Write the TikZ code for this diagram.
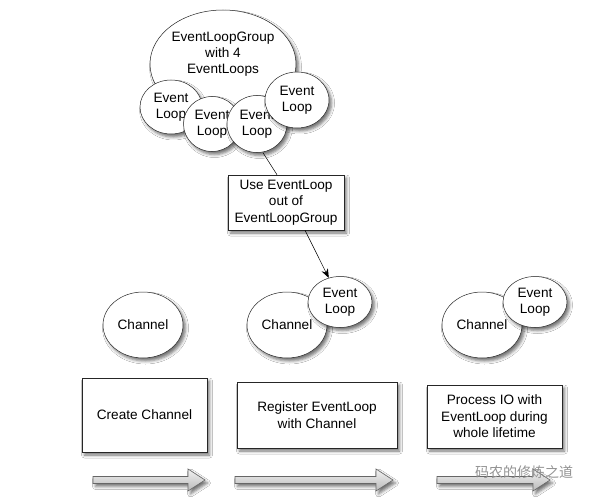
\documentclass[tikz,border=0pt]{standalone}
\usepackage{fontspec}
\setmainfont{Liberation Sans}
\newfontfamily\cjkfont{Noto Sans CJK SC}
\usetikzlibrary{shapes.geometric,shadows.blur,arrows.meta,calc}
\tikzset{
  shadowed/.style={blur shadow={shadow xshift=2.5pt, shadow yshift=-3pt, shadow blur radius=3pt, shadow opacity=55}},
  loopel/.style={ellipse, draw=black!85, line width=0.5pt, fill=white, inner sep=0pt, align=center, shadowed, font=\fontsize{13.6}{16}\selectfont},
  stepbox/.style={rectangle, draw=black!85, line width=0.5pt, fill=white, align=center, inner sep=0pt, shadowed, font=\fontsize{13.6}{16.5}\selectfont},
  txt/.style={align=center, inner sep=0pt, font=\fontsize{13.6}{16}\selectfont},
  conn/.style={draw=black, line width=0.5pt},
  blockarrow/.style={draw=black!60, line width=0.6pt, top color=gray!10, bottom color=gray!55, shadowed}
}
\newcommand{\blockarr}[3]{% x0, x1, y
  \path[blockarrow] (#1,#3-3.5) -- (#2-17,#3-3.5) -- (#2-17,#3-11) -- (#2,#3) -- (#2-17,#3+11) -- (#2-17,#3+3.5) -- (#1,#3+3.5) -- cycle;}
\begin{document}
\begin{tikzpicture}[x=1pt,y=-1pt]
\useasboundingbox (0,0) rectangle (593,497);
\fill[white] (0,0) rectangle (593,497);

% Event loop group
\node[loopel, minimum width=146pt, minimum height=108pt] (group) at (223,64) {};
\node[txt] (grouptxt) at (223,54) {EventLoopGroup\\with 4\\EventLoops};
\node[loopel, minimum width=62pt, minimum height=54pt] (l1) at (171,107) {Event\\Loop};
\node[loopel, minimum width=57pt, minimum height=55pt] (l2) at (212,124) {Event\\Loop};
\node[loopel, minimum width=60pt, minimum height=57pt] (l3) at (257,124) {Event\\Loop};
\node[loopel, minimum width=64pt, minimum height=56pt] (l4) at (297,100) {Event\\Loop};

% Use box
\node[stepbox, minimum width=116pt, minimum height=55pt] (usebox) at (286,202.5) {Use EventLoop\\out of\\EventLoopGroup};

% Bottom ellipses
\node[loopel, minimum width=80pt, minimum height=66pt] (ch1) at (143,325) {Channel};
\node[loopel, minimum width=80pt, minimum height=66pt] (ch2) at (287,325) {Channel};
\node[loopel, minimum width=64pt, minimum height=51pt] (el2) at (340,302) {Event\\Loop};
\node[loopel, minimum width=80pt, minimum height=66pt] (ch3) at (482,325) {Channel};
\node[loopel, minimum width=64pt, minimum height=51pt] (el3) at (535,302) {Event\\Loop};

% connectors
\draw[conn] ($(l3.south)+(6,0)$) -- ($(usebox.north)+(-9,0)$);
\draw[conn, -{Stealth[length=9pt,width=7pt]}] ($(usebox.south)+(19,0)$) -- (el2.115);

% Step boxes
\node[stepbox, minimum width=125pt, minimum height=74pt] (b1) at (144.5,415) {Create Channel};
\node[stepbox, minimum width=160pt, minimum height=66pt] (b2) at (317,415) {Register EventLoop\\with Channel};
\node[stepbox, minimum width=135pt, minimum height=63pt] (b3) at (494.5,416.5) {Process IO with\\EventLoop during\\whole lifetime};

% block arrows
\blockarr{93}{205}{480}
\blockarr{235}{393}{480}
\blockarr{437}{550}{480}

% watermark
\node[inner sep=0pt, text=gray!85, font=\cjkfont\fontsize{14}{14}\selectfont, anchor=west] (wm) at (475,472) {码农的修炼之道};
\end{tikzpicture}
\end{document}
